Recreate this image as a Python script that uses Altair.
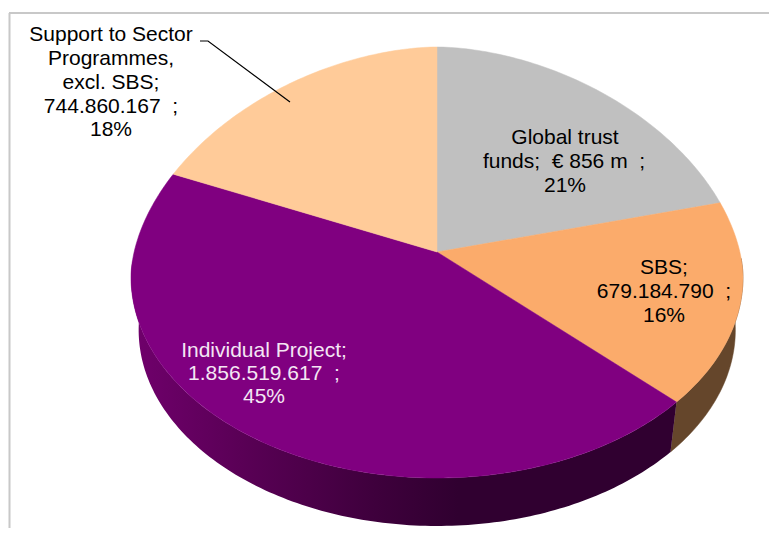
import math
import altair as alt
import pandas as pd

categories = ["Global trust funds", "SBS", "Individual Project", "Support to Sector Programmes, excl. SBS"]
values = [856000000, 679184790, 1856519617, 744860167]
face_colors = ["#c0c0c0", "#fbab6b", "#800080", "#ffcb99"]

label_lines = [
    ["Support to Sector", 111, 35, "#000000"],
    ["Programmes,", 111, 59, "#000000"],
    ["excl. SBS;", 111, 83, "#000000"],
    ["744.860.167\u00a0\u00a0;", 111, 107, "#000000"],
    ["18%", 111, 130, "#000000"],
    ["Global trust", 565, 138, "#000000"],
    ["funds;\u00a0\u00a0€ 856 m\u00a0\u00a0;", 564, 162, "#000000"],
    ["21%", 565, 186, "#000000"],
    ["SBS;", 664, 268, "#000000"],
    ["679.184.790\u00a0\u00a0;", 664, 292, "#000000"],
    ["16%", 664, 316, "#000000"],
    ["Individual Project;", 264, 351, "#f4e6f4"],
    ["1.856.519.617\u00a0\u00a0;", 264, 374, "#f4e6f4"],
    ["45%", 264, 397, "#f4e6f4"],
]
leader = [[200, 41], [208, 41], [290, 102]]

CX, APEX_Y, RY = 437, 252, 277
A, UP, DOWN = 306, 230, 201
Q = 1.8


def warp(t):
    return t + math.radians(-4.65 * math.sin(t) - 0.45 * math.sin(2 * t) - 1.3 * (1 - math.cos(t)))


def top_point(t):
    p = warp(t)
    s, c = math.sin(p), math.cos(p)
    if c >= 0:
        return (CX + A * math.copysign(abs(s) ** (2 / Q), s), RY - UP * c ** (2 / Q))
    return (CX + A * s, RY - DOWN * c)


def bottom_point(t):
    p = warp(t)
    return (CX + 0.975 * A * math.sin(p), 330 - 0.975 * DOWN * math.cos(p))


total = sum(values)
edges = [0.0]
for v in values:
    edges.append(edges[-1] + v / total * 2 * math.pi)

face_rows = []
for name, a0, a1 in zip(categories, edges[:-1], edges[1:]):
    n = max(8, int((a1 - a0) * 60))
    pts = [(CX, APEX_Y)] + [top_point(a0 + (a1 - a0) * i / n) for i in range(n + 1)] + [(CX, APEX_Y)]
    for i, (x, y) in enumerate(pts):
        face_rows.append({"slice": name, "x": x, "y": y, "i": i})
faces = pd.DataFrame(face_rows)


def wall(a0, a1):
    n = max(8, int((a1 - a0) * 60))
    ts = [a0 + (a1 - a0) * i / n for i in range(n + 1)]
    pts = [top_point(t) for t in ts] + [bottom_point(t) for t in reversed(ts)]
    pts.append(pts[0])
    return pd.DataFrame([{"x": x, "y": y, "i": i} for i, (x, y) in enumerate(pts)])


x_scale = alt.Scale(domain=[8, 769], range=[0, 761], nice=False, zero=False)
y_scale = alt.Scale(domain=[8, 528], range=[0, 520], nice=False, zero=False)
X = alt.X("x:Q", scale=x_scale, axis=None)
Y = alt.Y("y:Q", scale=y_scale, axis=None)

brown_wall = alt.Chart(wall(math.radians(90), edges[2])).mark_line(
    fill="#65462b", stroke="#65462b", strokeWidth=0.5, interpolate="linear"
).encode(x=X, y=Y, order="i:Q")

purple_wall = alt.Chart(wall(edges[2], math.radians(272))).mark_line(
    fill=alt.Gradient(
        gradient="linear", x1=0, x2=1, y1=0, y2=0,
        stops=[
            alt.GradientStop(offset=0, color="#70006c"),
            alt.GradientStop(offset=0.2, color="#5a0056"),
            alt.GradientStop(offset=0.45, color="#3e003c"),
            alt.GradientStop(offset=0.6, color="#300030"),
            alt.GradientStop(offset=1, color="#300030"),
        ],
    ),
    stroke=None, interpolate="linear",
).encode(x=X, y=Y, order="i:Q")

top = alt.Chart(faces).mark_line(strokeWidth=0.5, interpolate="linear").encode(
    x=X, y=Y, order="i:Q",
    fill=alt.Fill("slice:N", scale=alt.Scale(domain=categories, range=face_colors), legend=None),
    stroke=alt.Stroke("slice:N", scale=alt.Scale(domain=categories, range=face_colors), legend=None),
)

leader_line = alt.Chart(pd.DataFrame(leader, columns=["x", "y"]).reset_index()).mark_line(
    color="#000000", strokeWidth=1.2
).encode(x=X, y=Y, order="index:Q")

labels = alt.Chart(pd.DataFrame(label_lines, columns=["text", "x", "y", "c"])).mark_text(
    font="Liberation Sans", fontSize=21, align="center", baseline="middle"
).encode(x=X, y=Y, text="text:N", color=alt.Color("c:N", scale=None))

frame_left = alt.Chart(pd.DataFrame({"x": [9.5], "y": [13], "y2": [528]})).mark_rule(
    color="#c8c8c8", strokeWidth=2
).encode(x=X, y=Y, y2="y2:Q")
frame_top = alt.Chart(pd.DataFrame({"x": [9], "x2": [769], "y": [13]})).mark_rule(
    color="#c8c8c8", strokeWidth=2
).encode(x=X, x2="x2:Q", y=Y)

chart = alt.layer(frame_left, frame_top, brown_wall, purple_wall, top, leader_line, labels).properties(
    width=761, height=520, padding=0, autosize=alt.AutoSizeParams(type="none"), background="#ffffff"
).configure_view(stroke=None)

chart.save("out.html", embed_options={"renderer": "svg", "actions": False})
